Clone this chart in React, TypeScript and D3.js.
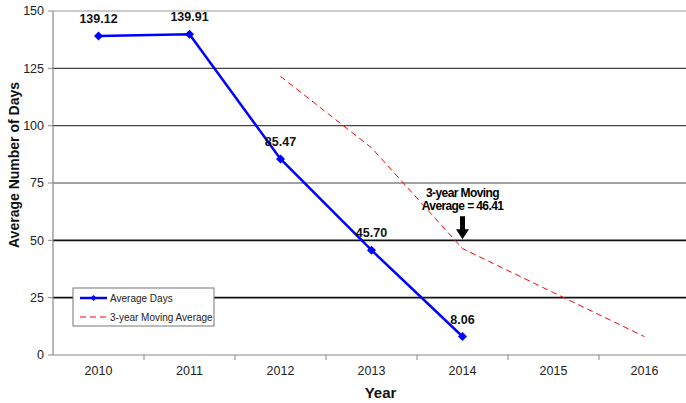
import * as d3 from "d3";

const years = ["2010", "2011", "2012", "2013", "2014", "2015", "2016"];
const averageDays = [139.12, 139.91, 85.47, 45.7, 8.06];
const movingYears = ["2012", "2013", "2014", "2015", "2016"];
const movingAverage = [121.5, 90.36, 46.41, 27.2, 8.0];
const yTicks = [0, 25, 50, 75, 100, 125, 150];

const width = 686;
const height = 403;
const left = 53;
const right = 690;
const top = 11;
const bottom = 355;
const font = "'Liberation Sans', Arial, sans-serif";

// square turned 45 degrees, like the spreadsheet marker
const diamond = (r: number) => `M0,${-r}L${r},0L0,${r}L${-r},0Z`;

export default function App() {
  const x = d3.scaleBand().domain(years).range([left, right]);
  const cx = (y: string) => (x(y) ?? 0) + x.bandwidth() / 2;
  const y = d3.scaleLinear().domain([0, 150]).range([bottom, top]);

  const line = d3
    .line<number>()
    .x((_, i) => cx(years[i]))
    .y((d) => y(d));
  const maLine = d3
    .line<number>()
    .x((_, i) => cx(movingYears[i]))
    .y((d) => y(d));

  const arrowX = cx("2014");
  const arrowTip = y(50);

  return (
    <svg
      width={width}
      height={height}
      style={{ position: "absolute", left: 0, top: 0 }}
      fontFamily={font}
    >
      <rect width={width} height={height} fill="white" />
      {yTicks.map((t) => (
        <g key={t}>
          {t > 0 && (
            <line
              x1={left}
              x2={right}
              y1={y(t)}
              y2={y(t)}
              stroke={t === 150 ? "#999" : t <= 50 ? "#111" : "#444"}
              strokeWidth={t <= 50 ? 1.6 : 1.2}
            />
          )}
          <line x1={left - 5} x2={left} y1={y(t)} y2={y(t)} stroke="#888" />
          <text
            x={left - 9}
            y={y(t)}
            dy="0.35em"
            textAnchor="end"
            fontSize={12.5}
            fill="#222"
          >
            {t}
          </text>
        </g>
      ))}
      <line x1={left} x2={left} y1={top} y2={bottom} stroke="#888" strokeWidth={1.2} />
      <line x1={left} x2={right} y1={bottom} y2={bottom} stroke="#888" strokeWidth={1.2} />
      {years.map((yr) => (
        <g key={yr}>
          <line
            x1={(x(yr) ?? 0) + x.bandwidth()}
            x2={(x(yr) ?? 0) + x.bandwidth()}
            y1={bottom}
            y2={bottom + 5}
            stroke="#888"
          />
          <text x={cx(yr)} y={bottom + 20} textAnchor="middle" fontSize={12.5} fill="#222">
            {yr}
          </text>
        </g>
      ))}
      <text
        x={cx("2013") + 9}
        y={398}
        textAnchor="middle"
        fontSize={15}
        fontWeight="bold"
        fill="#111"
      >
        Year
      </text>
      <text
        transform="translate(19, 165) rotate(-90)"
        textAnchor="middle"
        fontSize={14}
        fontWeight="bold"
        fill="#111"
      >
        Average Number of Days
      </text>

      <path
        d={maLine(movingAverage) ?? ""}
        fill="none"
        stroke="#ff0000"
        strokeWidth={1}
        strokeDasharray="6 4"
      />
      <path d={line(averageDays) ?? ""} fill="none" stroke="#0000ff" strokeWidth={2.5} />
      {averageDays.map((v, i) => (
        <g key={i}>
          <path
            d={diamond(4.5)}
            transform={`translate(${cx(years[i])}, ${y(v)})`}
            fill="#0000ff"
          />
          <text
            x={cx(years[i])}
            y={y(v) - 13}
            textAnchor="middle"
            fontSize={12.5}
            fontWeight="bold"
            fill="#111"
          >
            {v.toFixed(2)}
          </text>
        </g>
      ))}

      <text
        x={arrowX}
        y={197}
        textAnchor="middle"
        fontSize={12}
        fontWeight="bold"
        fontFamily="'Liberation Sans Narrow', 'Liberation Sans', sans-serif"
        letterSpacing={-0.6}
        fill="#000"
      >
        <tspan x={arrowX}>3-year Moving</tspan>
        <tspan x={arrowX} dy={13}>
          Average = 46.41
        </tspan>
      </text>
      <path
        d={`M${arrowX - 2.5},${arrowTip - 24} h5 v13 h4 l-6.5,10 l-6.5,-10 h4 z`}
        fill="#000"
      />

      <g>
        <rect x={73} y={288} width={141} height={38} fill="white" stroke="#777" />
        <line x1={80} x2={107} y1={298} y2={298} stroke="#0000ff" strokeWidth={2.5} />
        <path d={diamond(3)} transform="translate(93.5, 298)" fill="#0000ff" />
        <text x={110} y={298} dy="0.35em" fontSize={10} fill="#222">
          Average Days
        </text>
        <line
          x1={80}
          x2={107}
          y1={317}
          y2={317}
          stroke="#ff0000"
          strokeWidth={1}
          strokeDasharray="6 4"
        />
        <text x={110} y={317} dy="0.35em" fontSize={10} fill="#222">
          3-year Moving Average
        </text>
      </g>
    </svg>
  );
}
